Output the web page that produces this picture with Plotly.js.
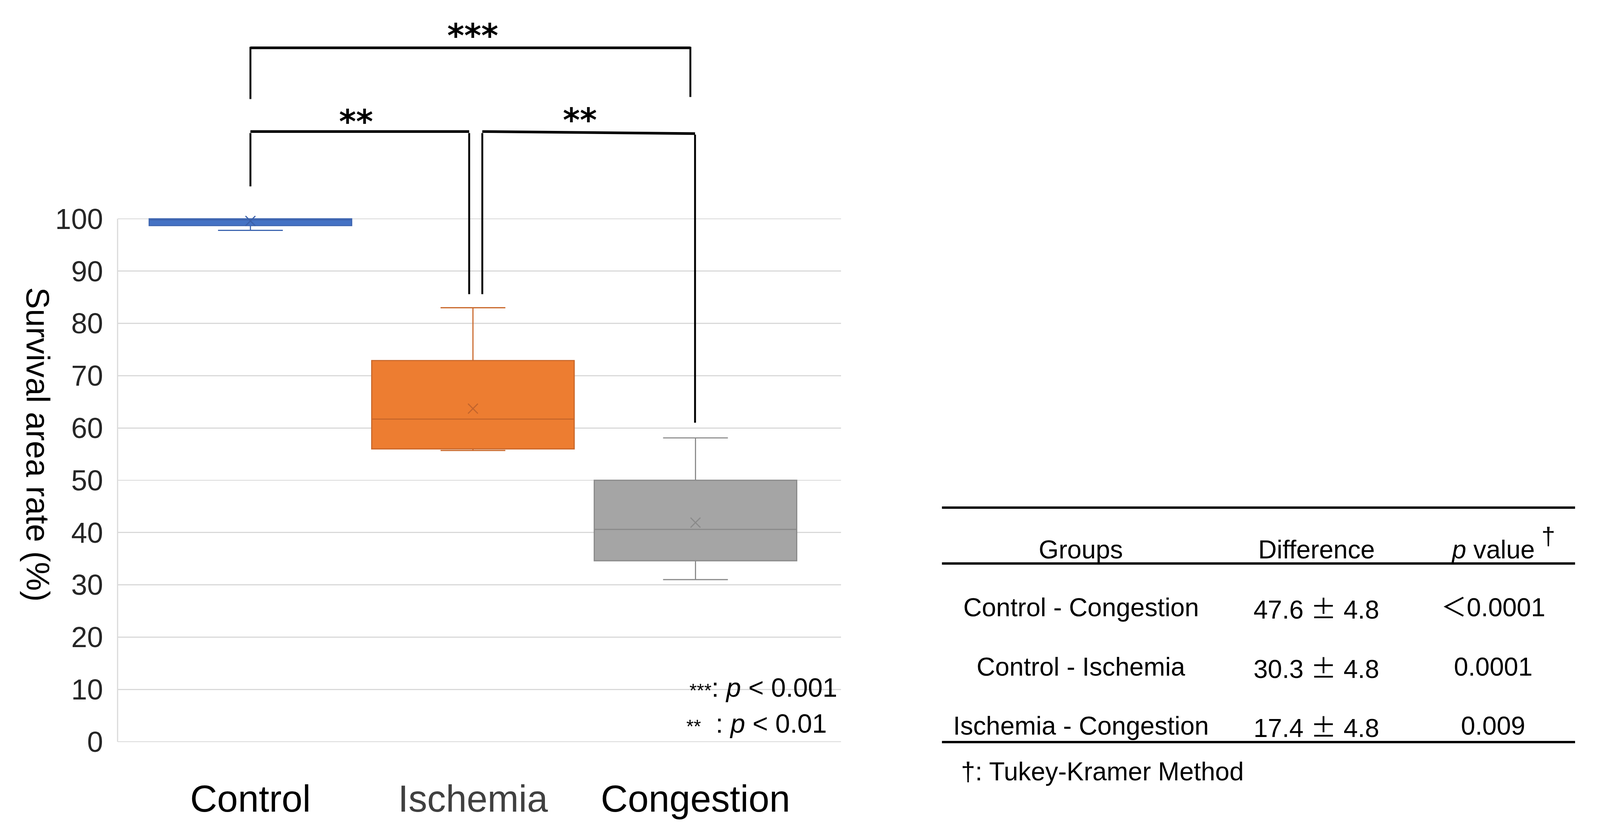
<!DOCTYPE html>
<html>
<head>
<meta charset="utf-8">
<script src="https://cdn.plot.ly/plotly-3.0.1.min.js"></script>
<style>html,body{margin:0;padding:0;background:#fff;overflow:hidden;}#chart{position:absolute;left:0;top:0;}</style>
</head>
<body>
<div id="chart"></div>
<script>
// ---------------- data ----------------
const categories = ['Control', 'Ischemia', 'Congestion'];
const q1Values = [98.7, 56.0, 34.6];
const medianValues = [99.8, 61.7, 40.6];
const q3Values = [100.0, 72.9, 50.0];
const lowerWhisker = [97.8, 55.7, 31.0];
const upperWhisker = [100.0, 83.0, 58.1];
const meanValues = [99.6, 63.7, 41.9];
const yTickValues = [0, 10, 20, 30, 40, 50, 60, 70, 80, 90, 100];

const tableGroups = ['Control - Congestion', 'Control - Ischemia', 'Ischemia - Congestion'];
const tableDiff = ['47.6', '30.3', '17.4'];
const tableSE = ['4.8', '4.8', '4.8'];
const tablePValues = ['＜0.0001', '0.0001', '0.009'];
const tableHeaders = ['Groups', 'Difference', '<i>p</i> value'];
const footnote = '†: Tukey-Kramer Method';

// ---------------- styles ----------------
const fillColors = ['#4472C4', '#ED7D31', '#A5A5A5'];
const lineColors = ['#3D65B0', '#C9672A', '#8A8A8A'];
const meanColors = ['#3A5FA8', '#C4652C', '#8A8A8A'];
const labelColors = ['#000000', '#404040', '#000000'];

// fill the actual viewport (reference is 4373 x 2124)
const REF_W = 4373, REF_H = 2124;
const VW = window.innerWidth || REF_W, VH = window.innerHeight || REF_H;
const kx = VW / REF_W, ky = VH / REF_H;
const kf = Math.sqrt(kx * ky);
const s = v => v * kf;
const chartDiv = document.getElementById('chart');
chartDiv.style.width = VW + 'px';
chartDiv.style.height = VH + 'px';

// layout geometry (reference pixels)
const L = 321, R = 2299, T = 10, B = 1898;
const pw = R - L, ph = B - T;
const px = x => (x - L) / pw;
const py = y => (B - y) / ph;
const yMax = 100 * ph / (B - 560);

const FONT = 'Liberation Sans, Arial, Noto Sans CJK JP, sans-serif';

const traces = categories.map((c, i) => ({
  type: 'box',
  name: c,
  x: [c],
  q1: [q1Values[i]],
  median: [medianValues[i]],
  q3: [q3Values[i]],
  lowerfence: [lowerWhisker[i]],
  upperfence: [upperWhisker[i]],
  boxpoints: false,
  fillcolor: fillColors[i],
  line: {color: lineColors[i], width: s(3)},
  width: 0.91,
  whiskerwidth: 0.32,
  showlegend: false,
  hoverinfo: 'skip'
}));

traces.push({
  type: 'scatter',
  mode: 'markers',
  x: categories,
  y: meanValues,
  marker: {symbol: 'x-thin', size: s(26), line: {width: s(3), color: meanColors}, color: meanColors},
  showlegend: false,
  hoverinfo: 'skip'
});

// brackets (significance)
const shapes = [];
function seg(x0, y0, x1, y1, w) {
  shapes.push({type: 'line', xref: 'x', yref: 'y', x0, y0, x1, y1, line: {color: '#000', width: s(w)}});
}
// top ***
seg(0, 132.7, 1.977, 132.7, 7);
seg(0, 132.9, 0, 122.9, 5);
seg(1.977, 132.9, 1.977, 123.3, 5);
// left **
seg(0, 116.7, 0.983, 116.7, 7);
seg(0, 116.4, 0, 106.2, 5);
seg(0.983, 116.4, 0.983, 85.6, 5);
// right **
seg(1.042, 116.7, 1.998, 116.3, 7);
seg(1.042, 116.4, 1.042, 85.6, 5);
seg(1.998, 116.1, 1.998, 61.0, 5);
// left axis line
shapes.push({type: 'line', xref: 'paper', yref: 'y', x0: 0, x1: 0, y0: 0, y1: 100, line: {color: '#D9D9D9', width: s(3)}});

// table rules
[1299, 1442, 1899].forEach(y => {
  shapes.push({type: 'line', xref: 'paper', yref: 'paper', x0: px(2575), x1: px(4306), y0: py(y), y1: py(y), line: {color: '#000', width: s(6)}});
});

const annotations = [];
function ann(text, x, y, opts) {
  annotations.push(Object.assign({text, x, y, xref: 'paper', yref: 'paper', showarrow: false,
    font: {family: FONT, size: s(68), color: '#000'}, xanchor: 'center', yanchor: 'middle'}, opts || {}));
}
// stars
const starFont = {family: 'DejaVu Sans', size: s(86), color: '#000'};
annotations.push({text: '<b>***</b>', x: 1.0, y: 135.0, xref: 'x', yref: 'y', showarrow: false, font: starFont});
annotations.push({text: '<b>**</b>', x: 0.475, y: 118.6, xref: 'x', yref: 'y', showarrow: false, font: starFont});
annotations.push({text: '<b>**</b>', x: 1.481, y: 118.9, xref: 'x', yref: 'y', showarrow: false, font: starFont});

// in-plot key
const smallStar = '<span style="font-size:' + s(50).toFixed(1) + 'px">';
ann(smallStar + '***</span>: <i>p</i> &lt; 0.001', px(2292), py(1759), {xanchor: 'right', font: {family: FONT, size: s(70), color: '#000'}});
ann(smallStar + '**</span>  : <i>p</i> &lt; 0.01', px(2263), py(1851), {xanchor: 'right', font: {family: FONT, size: s(70), color: '#000'}});

// y title
ann('Survival area rate (%)', px(103), py(1138), {textangle: 90, font: {family: FONT, size: s(86), color: '#000'}});

// table
const colX = [2955, 3599, 4082];
tableHeaders.forEach((h, j) => ann(h, px(colX[j]), py(1406)));
ann('†', px(4233), py(1372), {font: {family: FONT, size: s(66), color: '#000'}});
const rowY = [1554, 1706, 1857];
tableGroups.forEach((g, i) => {
  ann(g, px(colX[0]), py(rowY[i]));
  ann(tableDiff[i] + ' <span style="font-family:\'Noto Sans CJK JP\'">±</span> ' + tableSE[i], px(colX[1]), py(rowY[i]));
  ann(tablePValues[i], px(colX[2]), py(rowY[i]));
});
ann(footnote, px(2625), py(1974), {xanchor: 'left'});

const layout = {
  width: VW, height: VH,
  margin: {l: L * kx, r: (REF_W - R) * kx, t: T * ky, b: (REF_H - B) * ky, pad: 0},
  paper_bgcolor: '#fff', plot_bgcolor: '#fff',
  font: {family: FONT, color: '#000'},
  xaxis: {
    type: 'category',
    range: [-0.597, 2.654],
    tickvals: categories,
    ticktext: categories.map((c, i) => '<span style="color:' + labelColors[i] + '">' + c + '</span>'),
    tickfont: {family: FONT, size: s(99), color: '#000'},
    ticks: '', showgrid: false, zeroline: false, showline: false,
    ticklabelstandoff: Math.round(82 * ky)
  },
  yaxis: {
    range: [0, yMax],
    tickvals: yTickValues,
    ticktext: yTickValues.map(String),
    tickfont: {family: FONT, size: s(76), color: '#262626'},
    ticks: '', showgrid: true, gridcolor: '#D9D9D9', gridwidth: s(3),
    zeroline: true, zerolinecolor: '#D9D9D9', zerolinewidth: s(3),
    showline: false,
    ticklabelstandoff: Math.round(38 * kx)
  },
  shapes, annotations,
  showlegend: false
};

Plotly.newPlot('chart', traces, layout, {staticPlot: true});
</script>
</body>
</html>
